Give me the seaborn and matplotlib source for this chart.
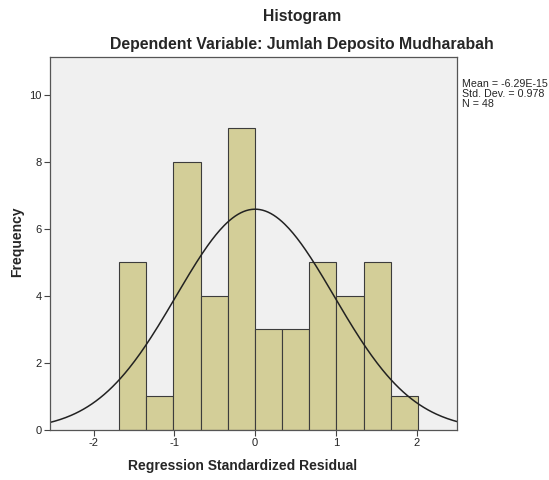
import numpy as np
import pandas as pd
import seaborn as sns
import matplotlib.pyplot as plt

sns.set_theme(style="white")
plt.rcParams['font.family'] = ['Liberation Sans', 'DejaVu Sans']
plt.rcParams['axes.unicode_minus'] = False

# histogram data
bin_edges = [-1.685 + 0.3365 * i for i in range(12)]
counts = [5, 1, 8, 4, 9, 3, 3, 5, 4, 5, 1]
mean = -6.29e-15
std = 0.978
n = 48

centers = [(bin_edges[i] + bin_edges[i + 1]) / 2 for i in range(len(counts))]
df = pd.DataFrame({"resid": centers, "count": counts})

fig = plt.figure(figsize=(5.49, 4.8), dpi=100)
ax = fig.add_axes([50 / 549, 50 / 480, 407 / 549, 373 / 480])
ax.set_facecolor("#f0f0f0")

sns.histplot(data=df, x="resid", weights="count", bins=bin_edges,
             color="#d3ce98", alpha=1, edgecolor="#3c3c3c", linewidth=0.8, ax=ax)

# fitted normal curve
xs = np.linspace(-2.55, 2.55, 300)
bw = bin_edges[1] - bin_edges[0]
ys = n * bw / (std * np.sqrt(2 * np.pi)) * np.exp(-0.5 * ((xs - mean) / std) ** 2)
sns.lineplot(x=xs, y=ys, color="#222222", linewidth=1.1, ax=ax)

ax.set_xlim(-2.54, 2.5)
ax.set_ylim(0, 11.13)
ax.set_xticks([-2, -1, 0, 1, 2])
ax.set_yticks([0, 2, 4, 6, 8, 10])
ax.tick_params(axis="both", direction="out", length=4, width=0.8, colors="#444444",
               labelsize=8, labelcolor="#222222", pad=2, left=True, bottom=True)
for s in ax.spines.values():
    s.set_color("#555555")
    s.set_linewidth(0.9)
ax.set_xlabel("")
ax.set_ylabel("")

fig.text(302 / 549, 1 - 16 / 480, "Histogram", ha="center", va="center",
         fontsize=11.3, fontweight="bold")
fig.text(302 / 549, 1 - 45 / 480, "Dependent Variable: Jumlah Deposito Mudharabah",
         ha="center", va="center", fontsize=11.4, fontweight="bold")
fig.text(243 / 549, 1 - 466 / 480, "Regression Standardized Residual",
         ha="center", va="center", fontsize=10, fontweight="bold")
fig.text(17 / 549, 1 - 242 / 480, "Frequency", ha="center", va="center",
         rotation=90, fontsize=10, fontweight="bold")
fig.text(462 / 549, 1 - 94 / 480, "Mean = -6.29E-15\nStd. Dev. = 0.978\nN = 48",
         ha="left", va="center", fontsize=7.7, linespacing=0.95)

fig.savefig("out.png", dpi=100, facecolor="white")
